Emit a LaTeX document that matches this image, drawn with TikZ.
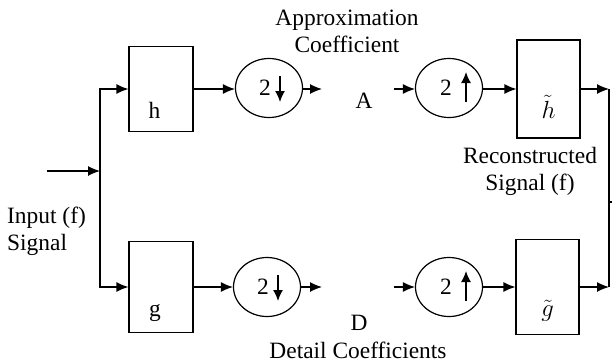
\documentclass[tikz,border=0pt]{standalone}
\usepackage{fontspec}
\setmainfont{Liberation Serif}
\usetikzlibrary{arrows.meta, positioning, shapes.geometric}

\begin{document}
\begin{tikzpicture}
    [
        x=1bp, y=-1bp, >={Latex[length=12bp,width=10bp]},
        every node/.style={font=\fontsize{23.5}{27}\selectfont},
        filt/.style={draw, line width=1.2bp, minimum width=64bp, minimum height=88bp, inner sep=0pt, text height=60bp, text depth=2bp},
        samp/.style={draw, ellipse, line width=1.2bp, minimum width=67bp, minimum height=59bp, inner sep=0pt},
        lbl/.style={inner sep=0pt, align=center},
        samparr/.style={-{Latex[length=11bp,width=10bp]}, line width=1.4bp}
    ]
    \tikzstyle{line} = [draw, ->, line width=1.2bp]

    \useasboundingbox (0,0) rectangle (612,363);

    % analysis side
    \node[filt, minimum height=85bp] (h) at (161,89) {h\kern13bp};
    \node[filt, minimum height=91bp] (g) at (161,287) {g\kern12bp};
    \node[samp] (dn1) at (269,88) {2\kern8bp};
    \node[samp] (dn2) at (267,287) {2\kern8bp};

    % synthesis side
    \node[samp] (up1) at (449,88) {2\kern6bp};
    \node[samp] (up2) at (449,287) {2\kern6bp};
    \node[filt, minimum width=63bp, minimum height=98bp] (ht) at (548.5,89) {$\tilde{h}$};
    \node[filt, minimum width=63bp, minimum height=95bp] (gt) at (547.5,287) {$\tilde{g}$};

    % down and up signs in the samplers
    \draw[samparr] ([shift={(11,-12)}]dn1.center) -- ([shift={(11,14)}]dn1.center);
    \draw[samparr] ([shift={(11,-12)}]dn2.center) -- ([shift={(11,14)}]dn2.center);
    \draw[samparr] ([shift={(17,14)}]up1.center) -- ([shift={(17,-16)}]up1.center);
    \draw[samparr] ([shift={(17,14)}]up2.center) -- ([shift={(17,-16)}]up2.center);

    % labels
    \node[lbl, anchor=north] (apx) at (347,10) {Approximation\\Coefficient};
    \node[lbl, anchor=base] (a) at (364,108) {A};
    \node[lbl, anchor=base] (d) at (359,330) {D};
    \node[lbl, anchor=base] (det) at (358,358) {Detail Coefficients};
    \node[lbl, anchor=north] (rec) at (530,147) {Reconstructed\\Signal (f)};
    \node[lbl, anchor=north west, align=left] (inp) at (7,207) {Input (f)\\Signal};

    \coordinate (src) at (47,171);
    \coordinate (split) at (100,171);
    \coordinate (aend) at (322,89);
    \coordinate (ain) at (394,89);
    \coordinate (dend) at (322,287);
    \coordinate (din) at (394,287);
    \coordinate (jtop) at (609,89);
    \coordinate (jbot) at (609,287);
    \coordinate (jmid) at (609,202);
    \coordinate (jout) at (612,202);

    \path[line] (src) -- (split);
    \path[line] (split) |- (h.west);
    \path[line] (split) |- (g.west);
    \path[line] (h.east) -- (h.east -| dn1.west);
    \path[line] (g.east) -- (g.east -| dn2.west);
    \path[line] (dn1.east |- aend) -- (aend);
    \path[line] (dn2.east |- dend) -- (dend);
    \path[line] (ain) -- (ain -| up1.west);
    \path[line] (din) -- (din -| up2.west);
    \path[line] (up1.east |- ht.west) -- (ht.west);
    \path[line] (up2.east |- gt.west) -- (gt.west);
    \path[line] (ht.east) -- (jtop);
    \path[line] (gt.east) -- (jbot);
    \draw[line width=1.2bp] (jtop) -- (jbot);
    \draw[line width=1.2bp] (jmid) -- (jout);

\end{tikzpicture}
\end{document}
